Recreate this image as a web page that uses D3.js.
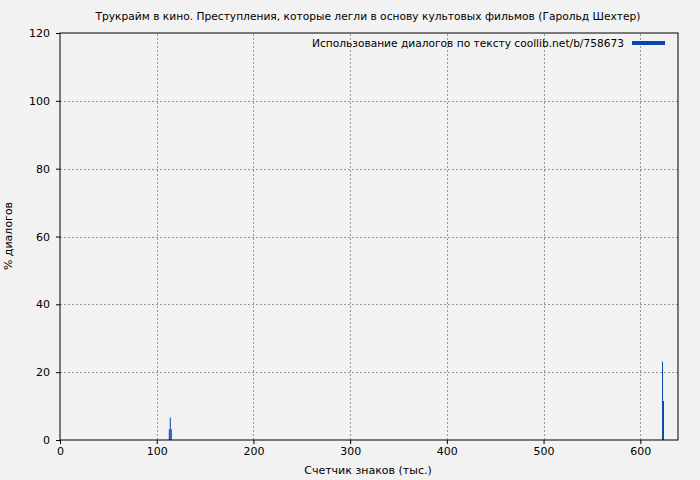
<!DOCTYPE html>
<html><head><meta charset="utf-8">
<script src="https://cdn.jsdelivr.net/npm/d3@7/dist/d3.min.js"></script>
<style>
body{margin:0;background:#f2f2f2;}
text{font-family:"DejaVu Sans",sans-serif;}
</style></head>
<body>
<svg id="c" width="700" height="480"></svg>
<script>
const title = "Трукрайм в кино. Преступления, которые легли в основу культовых фильмов (Гарольд Шехтер)";
const legendLabel = "Использование диалогов по тексту coollib.net/b/758673";
const xLabel = "Счетчик знаков (тыс.)";
const yLabel = "% диалогов";
const positions = [113, 114, 115, 623, 624];
const values = [3.2, 6.6, 3.2, 23.1, 11.5];
const xTicks = [0, 100, 200, 300, 400, 500, 600];
const yTicks = [0, 20, 40, 60, 80, 100, 120];
const xMax = 639;
const yMax = 120;

const svg = d3.select("#c");
const m = {l:60, r:22, t:33, b:40};
const W = 700, H = 480;
const x = d3.scaleLinear().domain([0, xMax]).range([m.l, W - m.r]);
const y = d3.scaleLinear().domain([0, yMax]).range([H - m.b, m.t]);

svg.append("rect").attr("width", W).attr("height", H).attr("fill", "#f2f2f2");

// grid
const grid = svg.append("g").attr("stroke", "#999").attr("stroke-dasharray", "2,2").attr("stroke-width", 1);
xTicks.filter(t => t > 0).forEach(t => grid.append("line")
  .attr("x1", Math.round(x(t)) + 0.5).attr("x2", Math.round(x(t)) + 0.5)
  .attr("y1", y(0)).attr("y2", y(yMax)));
yTicks.filter(t => t > 0 && t < yMax).forEach(t => grid.append("line")
  .attr("y1", Math.round(y(t)) + 0.5).attr("y2", Math.round(y(t)) + 0.5)
  .attr("x1", x(0)).attr("x2", x(xMax)));

// bars
svg.append("g").selectAll("rect").data(positions).join("rect")
  .attr("x", d => x(d - 0.5))
  .attr("width", d => Math.max(1, x(d + 0.5) - x(d - 0.5)))
  .attr("y", (d, i) => y(values[i]))
  .attr("height", (d, i) => y(0) - y(values[i]))
  .attr("fill", "#0a47a8");

// axes
const xAxis = d3.axisBottom(x).tickValues(xTicks).tickSizeInner(4).tickSizeOuter(0).tickPadding(3);
const yAxis = d3.axisLeft(y).tickValues(yTicks).tickSizeInner(4).tickSizeOuter(0).tickPadding(6);
const gx = svg.append("g").attr("transform", `translate(0,${y(0)})`).call(xAxis);
const gy = svg.append("g").attr("transform", `translate(${x(0)},0)`).call(yAxis);
[gx, gy].forEach(g => {
  g.selectAll("text").attr("font-size", 11).attr("fill", "#000").attr("font-family", "DejaVu Sans");
  g.selectAll("line").attr("stroke", "#000");
  g.select(".domain").remove();
});

// border
svg.append("rect").attr("x", x(0)).attr("y", y(yMax))
  .attr("width", x(xMax) - x(0)).attr("height", y(0) - y(yMax))
  .attr("fill", "none").attr("stroke", "#000").attr("stroke-width", 1);

// title
svg.append("text").attr("x", 368).attr("y", 20).attr("text-anchor", "middle")
  .attr("font-size", 11).attr("textLength", 545).attr("lengthAdjust", "spacingAndGlyphs").text(title);

// legend
svg.append("text").attr("x", 624).attr("y", 47).attr("text-anchor", "end")
  .attr("font-size", 11).attr("textLength", 312).attr("lengthAdjust", "spacingAndGlyphs").text(legendLabel);
svg.append("line").attr("x1", 632).attr("x2", 665).attr("y1", 43).attr("y2", 43)
  .attr("stroke", "#0a47a8").attr("stroke-width", 4);

// axis labels
svg.append("text").attr("x", 368).attr("y", 474).attr("text-anchor", "middle")
  .attr("font-size", 11).text(xLabel);
svg.append("text").attr("transform", "translate(12,236) rotate(-90)").attr("text-anchor", "middle")
  .attr("font-size", 11).text(yLabel);
</script>
</body></html>
